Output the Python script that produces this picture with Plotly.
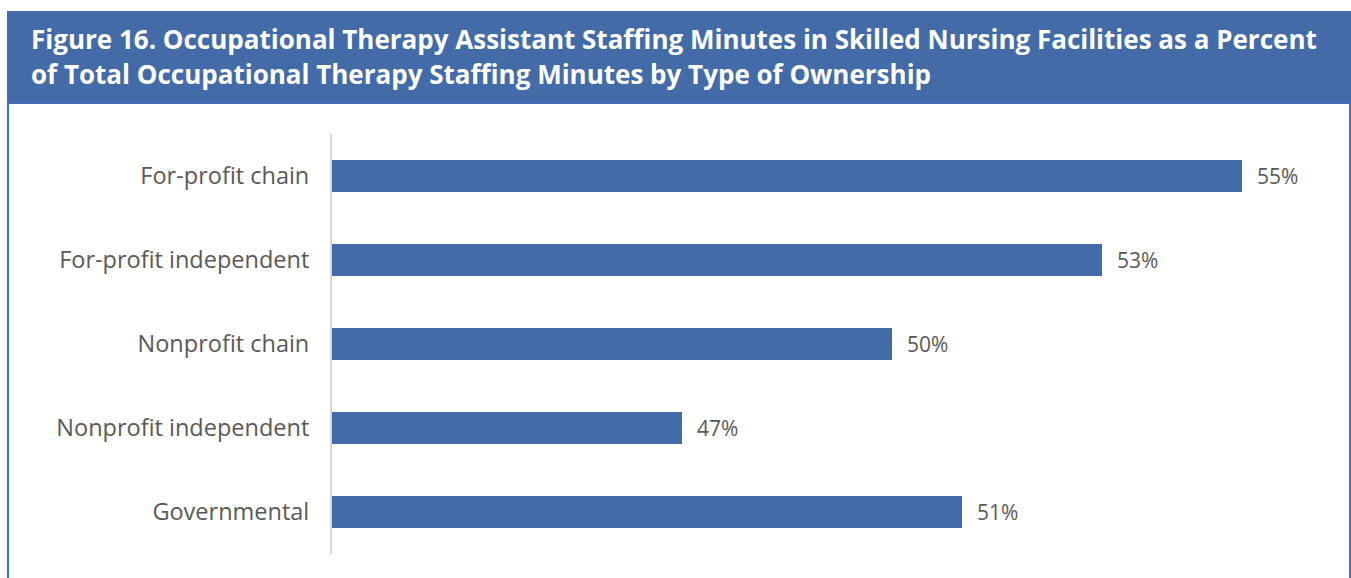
import plotly.graph_objects as go

# Ownership categories, top to bottom, and their OTA share of OT minutes (%)
categories = [
    "For-profit chain",
    "For-profit independent",
    "Nonprofit chain",
    "Nonprofit independent",
    "Governmental",
]
values = [55, 53, 50, 47, 51]

title_line1 = ("Figure 16. Occupational Therapy Assistant Staffing Minutes in "
               "Skilled Nursing Facilities as a Percent")
title_line2 = "of Total Occupational Therapy Staffing Minutes by Type of Ownership"

W, H = 1351, 578
BLUE = "#436BA8"
TEXT = "#595959"


def px_x(px):
    return px / W


def px_y(py):
    return 1 - py / H


fig = go.Figure(
    go.Bar(
        x=values,
        y=categories,
        orientation="h",
        marker=dict(color=BLUE, line=dict(width=0)),
        width=0.38,
        hoverinfo="skip",
    )
)

# value labels placed just past the end of each bar
for cat, v in zip(categories, values):
    fig.add_annotation(
        x=v, y=cat, xref="x", yref="y",
        text=f"{v}%", showarrow=False,
        xanchor="left", yanchor="middle", xshift=13,
        font=dict(family="Open Sans", size=21, color=TEXT),
    )

# framed panel below the banner, then the title banner itself
fig.add_shape(type="rect", xref="paper", yref="paper",
              x0=px_x(8), x1=px_x(1350), y0=px_y(620), y1=px_y(103),
              line=dict(color="#4472C4", width=2), fillcolor="white", layer="below")
fig.add_shape(type="rect", xref="paper", yref="paper",
              x0=px_x(7), x1=px_x(1352), y0=px_y(103), y1=px_y(11),
              line=dict(width=0), fillcolor=BLUE, layer="below")

for txt, yc in [(title_line1, 39), (title_line2, 74)]:
    fig.add_annotation(
        x=px_x(29), y=px_y(yc), xref="paper", yref="paper",
        text=f"<b>{txt}</b>", showarrow=False,
        xanchor="left", yanchor="middle",
        font=dict(family="Open Sans", size=26, color="white"),
    )

fig.update_layout(
    width=W, height=H,
    margin=dict(l=0, r=0, t=0, b=0),
    paper_bgcolor="white",
    plot_bgcolor="rgba(0,0,0,0)",
    showlegend=False,
    template="none",
    xaxis=dict(
        domain=[px_x(332), px_x(1330)],
        range=[42, 42 + (1330 - 332) / 70],
        visible=False, automargin=False,
    ),
    yaxis=dict(
        domain=[1 - 554 / H, 1 - 134 / H],
        type="category",
        categoryorder="array", categoryarray=categories,
        range=[len(categories) - 0.5, -0.5],
        showline=True, linecolor="#D9D9D9", linewidth=2,
        showgrid=False, zeroline=False,
        ticks="", ticklabelstandoff=16,
        tickfont=dict(family="Open Sans", size=23.5, color=TEXT),
        automargin=False,
    ),
)

fig.write_html("out.html")
